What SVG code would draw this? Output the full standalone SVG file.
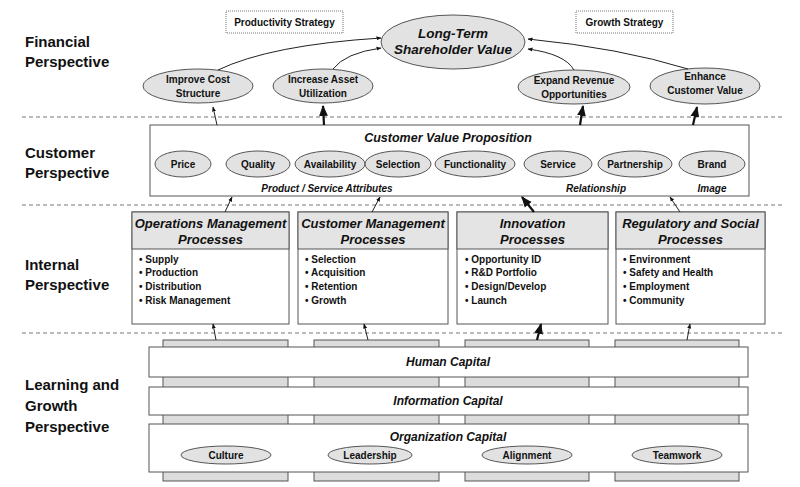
<svg xmlns="http://www.w3.org/2000/svg" width="800" height="487" viewBox="0 0 800 487">
<defs>
<marker id="ah" viewBox="0 0 10 10" refX="9" refY="5" markerWidth="5" markerHeight="5" orient="auto"><path d="M0,1 L10,5 L0,9 z" fill="#111"/></marker>
<style>
text{font-family:"Liberation Sans",Arial,sans-serif;fill:#111;font-weight:bold}
.persp{font-size:15px}
.el{fill:#e2e2e2;stroke:#555;stroke-width:1}
.et{font-size:10px;text-anchor:middle}
.it{font-style:italic;text-anchor:middle}
.hd{font-size:13px}
.box{fill:#fff;stroke:#555;stroke-width:1}
.hdr{fill:#e4e4e4;stroke:#555;stroke-width:1}
.tab{fill:#dcdcdc;stroke:#555;stroke-width:1}
.dash{stroke:#777;stroke-width:1;stroke-dasharray:4,3}
.c{fill:none;stroke:#222;stroke-width:1;marker-end:url(#ah)}
.ct{fill:none;stroke:#111;stroke-width:2.2;marker-end:url(#ah)}
.bl{font-size:10px}
.strat{fill:#fff;stroke:#777;stroke-width:1;stroke-dasharray:1,1}
</style>
</defs>
<rect width="800" height="487" fill="#fff"/>
<g id="perspectives">
<text class="persp" x="25" y="47">Financial</text><text class="persp" x="25" y="67">Perspective</text>
<text class="persp" x="25" y="158">Customer</text><text class="persp" x="25" y="178">Perspective</text>
<text class="persp" x="25" y="270">Internal</text><text class="persp" x="25" y="290">Perspective</text>
<text class="persp" x="25" y="390">Learning and</text><text class="persp" x="25" y="411">Growth</text><text class="persp" x="25" y="432">Perspective</text>
</g>
<g id="dividers">
<line class="dash" x1="22" y1="117" x2="783" y2="117"/>
<line class="dash" x1="22" y1="205" x2="783" y2="205"/>
<line class="dash" x1="22" y1="333" x2="783" y2="333"/>
</g>
<g id="strategies">
<rect class="strat" x="226" y="11" width="117" height="22"/>
<text x="284.5" y="26" font-size="10" text-anchor="middle">Productivity Strategy</text>
<rect class="strat" x="576" y="11" width="97" height="22"/>
<text x="624.5" y="26" font-size="10" text-anchor="middle">Growth Strategy</text>
</g>
<g id="learning">
<g id="tabs">
<rect class="tab" x="163" y="340" width="125" height="141"/>
<rect class="tab" x="314" y="340" width="125" height="141"/>
<rect class="tab" x="465" y="340" width="124" height="141"/>
<rect class="tab" x="615" y="340" width="124" height="141"/>
</g>
<g id="human-capital"><rect class="box" x="149" y="347" width="599" height="30"/><text class="it" x="448" y="366" font-size="12">Human Capital</text></g>
<g id="information-capital"><rect class="box" x="149" y="387" width="599" height="28"/><text class="it" x="448" y="405" font-size="12">Information Capital</text></g>
<g id="organization-capital"><rect class="box" x="149" y="424" width="599" height="48"/><text class="it" x="448" y="441" font-size="12">Organization Capital</text>
<g id="culture"><ellipse class="el" cx="226" cy="455" rx="45" ry="9"/><text class="et" x="226" y="459">Culture</text></g>
<g id="leadership"><ellipse class="el" cx="370" cy="455" rx="42" ry="9"/><text class="et" x="370" y="459">Leadership</text></g>
<g id="alignment"><ellipse class="el" cx="527" cy="455" rx="45" ry="9"/><text class="et" x="527" y="459">Alignment</text></g>
<g id="teamwork"><ellipse class="el" cx="677" cy="455" rx="45" ry="9"/><text class="et" x="677" y="459">Teamwork</text></g>
</g>
</g>
<g id="financial">
<g id="shareholder"><ellipse class="el" cx="453" cy="42" rx="72" ry="27"/><text class="it" x="453" y="38" font-size="13.5">Long-Term</text><text class="it" x="453" y="54" font-size="13.5">Shareholder Value</text></g>
<g id="improve-cost"><ellipse class="el" cx="198" cy="86" rx="55" ry="17"/><text class="et" x="198" y="83">Improve Cost</text><text class="et" x="198" y="97">Structure</text></g>
<g id="increase-asset"><ellipse class="el" cx="323" cy="86" rx="50" ry="17"/><text class="et" x="323" y="83">Increase Asset</text><text class="et" x="323" y="97">Utilization</text></g>
<g id="expand-revenue"><ellipse class="el" cx="574" cy="87" rx="56" ry="17"/><text class="et" x="574" y="84">Expand Revenue</text><text class="et" x="574" y="98">Opportunities</text></g>
<g id="enhance-customer"><ellipse class="el" cx="705" cy="86" rx="55" ry="18"/><text class="et" x="705" y="80">Enhance</text><text class="et" x="705" y="94">Customer Value</text></g>
</g>
<g id="customer">
<rect class="box" x="150" y="125" width="599" height="71"/>
<text class="it" x="448" y="142" font-size="12.5">Customer Value Proposition</text>
<g id="price"><ellipse class="el" cx="183" cy="164" rx="28" ry="13"/><text class="et" x="183" y="168">Price</text></g>
<g id="quality"><ellipse class="el" cx="258" cy="164" rx="32" ry="13"/><text class="et" x="258" y="168">Quality</text></g>
<g id="availability"><ellipse class="el" cx="330" cy="164" rx="35" ry="13"/><text class="et" x="330" y="168">Availability</text></g>
<g id="selection"><ellipse class="el" cx="398" cy="164" rx="33" ry="13"/><text class="et" x="398" y="168">Selection</text></g>
<g id="functionality"><ellipse class="el" cx="475" cy="164" rx="40" ry="13"/><text class="et" x="475" y="168">Functionality</text></g>
<g id="service"><ellipse class="el" cx="558" cy="164" rx="34" ry="13"/><text class="et" x="558" y="168">Service</text></g>
<g id="partnership"><ellipse class="el" cx="635" cy="164" rx="37" ry="13"/><text class="et" x="635" y="168">Partnership</text></g>
<g id="brand"><ellipse class="el" cx="712" cy="164" rx="33" ry="13"/><text class="et" x="712" y="168">Brand</text></g>
<text class="it" x="327" y="192" font-size="10">Product / Service Attributes</text>
<text class="it" x="596" y="192" font-size="10">Relationship</text>
<text class="it" x="712" y="192" font-size="10">Image</text>
</g>
<g id="internal">
<g id="operations"><rect class="box" x="132" y="212" width="157" height="112"/><rect class="hdr" x="132" y="212" width="157" height="37"/>
<text class="it hd" x="210.5" y="228">Operations Management</text><text class="it hd" x="210.5" y="244">Processes</text>
<text class="bl" x="139" y="263">•  Supply</text><text class="bl" x="139" y="276">•  Production</text><text class="bl" x="139" y="290">•  Distribution</text><text class="bl" x="139" y="304">•  Risk Management</text></g>
<g id="customer-mgmt"><rect class="box" x="298" y="212" width="150" height="112"/><rect class="hdr" x="298" y="212" width="150" height="37"/>
<text class="it hd" x="373" y="228">Customer Management</text><text class="it hd" x="373" y="244">Processes</text>
<text class="bl" x="305" y="263">•  Selection</text><text class="bl" x="305" y="276">•  Acquisition</text><text class="bl" x="305" y="290">•  Retention</text><text class="bl" x="305" y="304">•  Growth</text></g>
<g id="innovation"><rect class="box" x="457" y="212" width="151" height="112"/><rect class="hdr" x="457" y="212" width="151" height="37"/>
<text class="it hd" x="532.5" y="228">Innovation</text><text class="it hd" x="532.5" y="244">Processes</text>
<text class="bl" x="465" y="263">•  Opportunity ID</text><text class="bl" x="465" y="276">•  R&amp;D Portfolio</text><text class="bl" x="465" y="290">•  Design/Develop</text><text class="bl" x="465" y="304">•  Launch</text></g>
<g id="regulatory"><rect class="box" x="616" y="212" width="149" height="112"/><rect class="hdr" x="616" y="212" width="149" height="37"/>
<text class="it hd" x="690.5" y="228">Regulatory and Social</text><text class="it hd" x="690.5" y="244">Processes</text>
<text class="bl" x="623" y="263">•  Environment</text><text class="bl" x="623" y="276">•  Safety and Health</text><text class="bl" x="623" y="290">•  Employment</text><text class="bl" x="623" y="304">•  Community</text></g>
</g>
<g id="connectors">
<path class="c" d="M218,70 Q270,45 381,38"/>
<path class="c" d="M333,69 Q345,53 381,48"/>
<path class="c" d="M574,70 Q565,54 528,49"/>
<path class="c" d="M688,69 Q620,48 528,39"/>
<path class="c" d="M217,125 L213,107"/>
<path class="ct" d="M324,125 L323,106"/>
<path class="ct" d="M580,125 L583,106"/>
<path class="ct" d="M693,125 L697,107"/>
<path class="c" d="M225,212 L232,197"/>
<path class="c" d="M372,212 L380,197"/>
<path class="ct" d="M534,212 L522,197"/>
<path class="c" d="M680,212 L670,197"/>
<path class="c" d="M216,340 L213,324"/>
<path class="c" d="M368,340 L364,324"/>
<path class="ct" d="M537,340 L541,324"/>
<path class="c" d="M687,340 L690,324"/>
</g>
</svg>
